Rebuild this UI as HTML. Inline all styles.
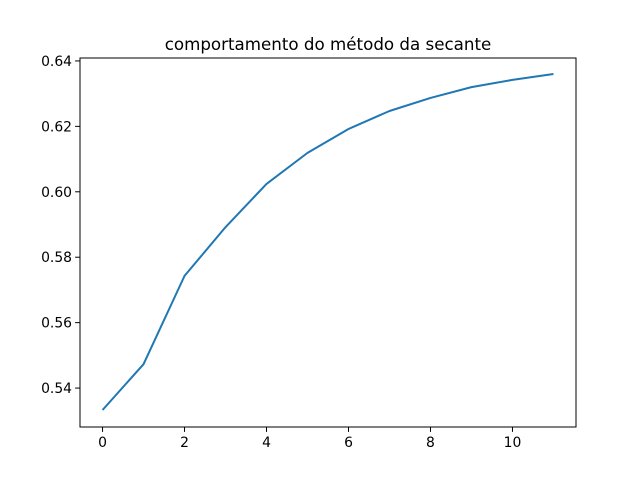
<!DOCTYPE html>
<html><head><meta charset="utf-8"><style>
body{margin:0;background:#fff;font-family:"DejaVu Sans","Liberation Sans",sans-serif;}
svg text{font-family:"DejaVu Sans","Liberation Sans",sans-serif;}
</style></head><body>
<svg id="chart" width="640" height="480" xmlns="http://www.w3.org/2000/svg">
<rect width="640" height="480" fill="#fff"/>
<text x="328" y="50" font-size="16.7" text-anchor="middle">comportamento do método da secante</text>
<g id="ticks"></g>
<path id="line" fill="none" stroke="#1f77b4" stroke-width="2" stroke-linejoin="round"/>
<rect x="80" y="58" width="496" height="369" fill="none" stroke="#000" stroke-width="1"/>
</svg>
<script>
const xValues=[0,1,2,3,4,5,6,7,8,9,10,11];
const yValues=[0.5333,0.5473,0.5743,0.5892,0.6024,0.6119,0.6192,0.6247,0.6287,0.6320,0.6342,0.6360];
const xTicks=[0,2,4,6,8,10];
const yTicks=[0.54,0.56,0.58,0.60,0.62,0.64];
const yTickLabels=["0.54","0.56","0.58","0.60","0.62","0.64"];
const L=80,R=576,T=58,B=427;
const xmin=-0.55,xmax=11.55,ymin=0.5281,ymax=0.6409;
function sx(v){return L+(v-xmin)/(xmax-xmin)*(R-L);}
function sy(v){return B-(v-ymin)/(ymax-ymin)*(B-T);}
const NS="http://www.w3.org/2000/svg";
const g=document.getElementById('ticks');
function mk(t,a){const e=document.createElementNS(NS,t);for(const k in a)e.setAttribute(k,a[k]);g.appendChild(e);return e;}
xTicks.forEach(v=>{
const x=sx(v);
const l=mk('line',{x1:x,x2:x,y1:B,y2:B+4.9,stroke:'#000','stroke-width':1});


const t=mk('text',{x:x,y:B+20,'font-size':13.9,'text-anchor':'middle'});
t.textContent=String(v);


});
yTicks.forEach((v,i)=>{
const y=sy(v);
const l=mk('line',{x1:L-4.9,x2:L,y1:y,y2:y,stroke:'#000','stroke-width':1});


const t=mk('text',{x:L-8,y:y+5,'font-size':13.9,'text-anchor':'end'});
t.textContent=yTickLabels[i];


});
document.getElementById('line').setAttribute('d',xValues.map((x,i)=>(i?'L':'M')+sx(x).toFixed(2)+' '+sy(yValues[i]).toFixed(2)).join(' '));
</script>
</body></html>
